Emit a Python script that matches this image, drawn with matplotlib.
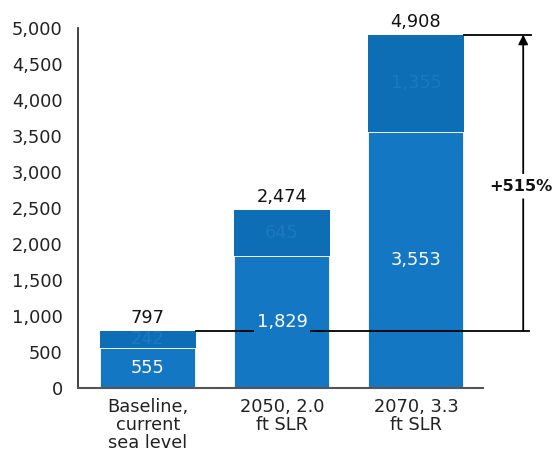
import matplotlib
matplotlib.use("Agg")
import matplotlib.pyplot as plt
from matplotlib.ticker import FuncFormatter

categories = ["Baseline,\ncurrent\nsea level", "2050, 2.0\nft SLR", "2070, 3.3\nft SLR"]
bottom_vals = [555, 1829, 3553]
top_vals = [242, 645, 1355]
totals = [797, 2474, 4908]
pct_label = "+515%"

plt.rcParams['font.family'] = ['DejaVu Sans']

fig = plt.figure(figsize=(5.59, 4.63), dpi=100)
ax = fig.add_axes([78/559, 75/463, (483-78)/559, 360/463])

x = list(range(len(categories)))
w = 0.71
c_bot = "#1477c4"
c_top = "#0d6db5"
fs = 12.8

ax.bar(x, bottom_vals, width=w, color=c_bot, edgecolor="white", linewidth=1.3, zorder=2)
ax.bar(x, top_vals, width=w, bottom=bottom_vals, color=c_top, linewidth=0, zorder=2)

for xi, b, t, tot in zip(x, bottom_vals, top_vals, totals):
    ax.text(xi, b/2, f"{b:,}", ha="center", va="center", color="white", fontsize=fs, zorder=5,
            bbox=dict(facecolor=c_bot, edgecolor="none", pad=1.5))
    ax.text(xi, b + t/2, f"{t:,}", ha="center", va="center", color="#1c78c0", fontsize=fs, zorder=5)
    ax.text(xi, tot + 50, f"{tot:,}", ha="center", va="bottom", color="#111111", fontsize=fs)

# reference lines and arrow
x_arrow = 2.80
ax.plot([x[0] + w/2, 2.84], [totals[0], totals[0]], color="black", lw=1.3, zorder=4, clip_on=False)
ax.plot([x[2] + w/2, 2.86], [totals[2], totals[2]], color="black", lw=1.3, zorder=4, clip_on=False)
ax.annotate("", xy=(x_arrow, totals[2]), xytext=(x_arrow, totals[0]),
            arrowprops=dict(arrowstyle="-|>", color="black", lw=1.3, mutation_scale=14,
                            shrinkA=0, shrinkB=0), annotation_clip=False, zorder=4)
ax.text(2.785, (totals[0] + totals[2]) / 2 - 50, pct_label, ha="center", va="center",
        fontsize=11.6, fontweight="bold", color="#111111", zorder=6, clip_on=False,
        bbox=dict(boxstyle="round,pad=0.3", facecolor="white", edgecolor="none"))

ax.set_xlim(-0.522, 2.5)
ax.set_ylim(0, 5000)
ax.set_yticks(range(0, 5001, 500))
ax.yaxis.set_major_formatter(FuncFormatter(lambda v, p: f"{int(v):,}"))
ax.set_xticks(x)
ax.set_xticklabels(categories, fontsize=fs, color="#222222", linespacing=1.0)
ax.tick_params(axis="y", length=0, pad=11, labelsize=fs, labelcolor="#222222")
ax.tick_params(axis="x", length=0, pad=7)
for s in ["top", "right"]:
    ax.spines[s].set_visible(False)
ax.spines["left"].set_color("#222222")
ax.spines["bottom"].set_color("#555555")
ax.spines["left"].set_linewidth(1.2)
ax.spines["bottom"].set_linewidth(1.5)
ax.spines["left"].set_zorder(6)
ax.spines["bottom"].set_zorder(6)

fig.savefig("out.png", dpi=100)
